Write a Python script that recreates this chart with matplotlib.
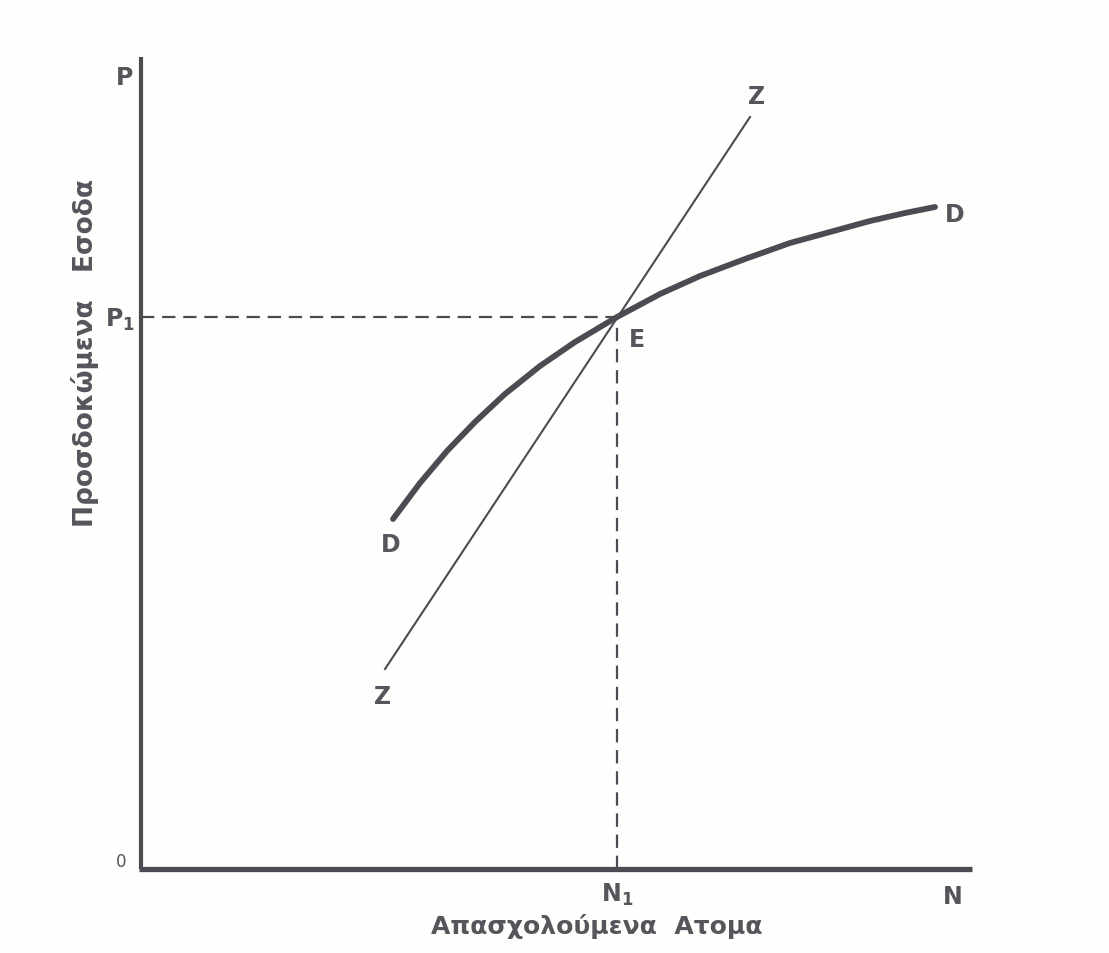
import matplotlib
matplotlib.use("Agg")
import matplotlib.pyplot as plt

# Data (units: pixel offsets from the origin of the diagram)
demand_x = [252, 279, 306, 334, 364, 399, 434, 476, 519, 559, 604, 649, 689, 729, 764, 794]
demand_y = [350, 386, 418, 447, 475, 503, 527, 552, 575, 593, 610, 626, 637, 648, 656, 662]
supply_x = [244, 609]
supply_y = [200, 752]
eq_x, eq_y = 476, 552
x_axis_end = 831
y_axis_end = 812

ink = "#4b4b52"
txt = "#55555c"
plt.rcParams['font.family'] = ['DejaVu Sans']
plt.rcParams['mathtext.fontset'] = 'dejavusans'

fig = plt.figure(figsize=(11.09, 9.54), dpi=100, facecolor="#fefefc")
ax = fig.add_axes([0, 0, 1, 1])
ax.set_xlim(-141, 968)
ax.set_ylim(-84, 870)
ax.axis("off")

# axes
ax.plot([0, 0], [0, y_axis_end], color=ink, lw=3.0, solid_capstyle="butt")
ax.plot([-2, x_axis_end], [0, 0], color=ink, lw=3.8, solid_capstyle="butt")

# dashed guide lines
ax.plot([0, eq_x], [eq_y, eq_y], color=ink, lw=1.6, dashes=(6, 3.5))
ax.plot([eq_x, eq_x], [0, eq_y], color=ink, lw=1.6, dashes=(6, 3.5))

# supply line Z
ax.plot(supply_x, supply_y, color=ink, lw=1.5)
# demand curve D
ax.plot(demand_x, demand_y, color=ink, lw=4.2, solid_capstyle="round", solid_joinstyle="round")

fs = 17
kw = dict(color=txt, fontweight="bold", fontsize=fs, ha="center", va="center")
ax.text(-16, 792, "P", **kw)
ax.text(-21, 550, r"$\mathbf{P_1}$", color=txt, fontsize=fs, ha="center", va="center")
ax.text(-20, 8, "0", color=txt, fontsize=12, ha="center", va="center")
ax.text(476, -25, r"$\mathbf{N_1}$", color=txt, fontsize=fs, ha="center", va="center")
ax.text(812, -27, "N", **kw)
ax.text(496, 530, "E", **kw)
ax.text(250, 325, "D", **kw)
ax.text(814, 655, "D", **kw)
ax.text(242, 173, "Z", **kw)
ax.text(616, 773, "Z", **kw)

ax.text(456, -57, "Απασχολούμενα  Ατομα", color=txt, fontweight="bold", fontsize=18,
        ha="center", va="center")
ax.text(-56, 517, "Προσδοκώμενα   Εσοδα", color=txt, fontweight="bold", fontsize=19,
        ha="center", va="center", rotation=90)

fig.savefig("out.png", dpi=100, facecolor=fig.get_facecolor())
